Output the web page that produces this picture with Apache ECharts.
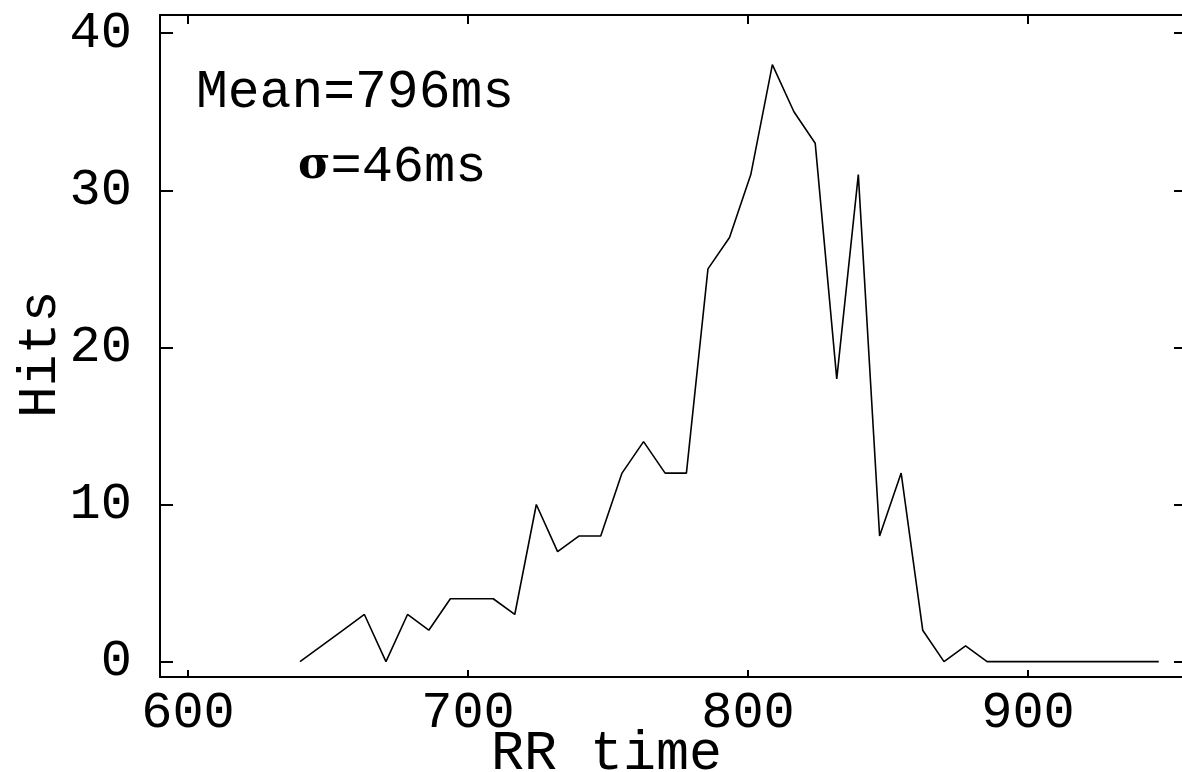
<!DOCTYPE html>
<html>
<head>
<meta charset="utf-8">
<style>
  html, body { margin: 0; padding: 0; background: #fff; }
  #chart { width: 1182px; height: 772px; }
</style>
<script src="https://cdn.jsdelivr.net/npm/echarts@6/dist/echarts.min.js"></script>
</head>
<body>
<div id="chart"></div>
<script>
// RR interval histogram (bin centre in ms, number of hits)
const rrTime = [640, 647.7, 655.4, 663, 670.7, 678.4, 686, 693.7, 701.4, 709,
                716.7, 724.4, 732, 739.7, 747.4, 755, 762.7, 770.4, 778, 785.7,
                793.4, 801, 808.7, 816.4, 824, 831.7, 839.4, 847, 854.7, 862.4,
                870, 877.7, 885.4, 893, 900.7, 908.4, 916, 923.7, 931.4, 939, 946.7];
const hits = [0, 1, 2, 3, 0, 3, 2, 4, 4, 4,
              3, 10, 7, 8, 8, 12, 14, 12, 12, 25,
              27, 31, 38, 35, 33, 18, 31, 8, 12, 2,
              0, 1, 0, 0, 0, 0, 0, 0, 0, 0, 0];
const xTicks = [600, 700, 800, 900];
const yTicks = [0, 10, 20, 30, 40];
const meanText = 'Mean=796ms';
const sigmaText = '=46ms';
const xName = 'RR time';
const yName = 'Hits';

const FONT = '"Liberation Mono", "DejaVu Sans Mono", monospace';
const X_MIN = 590, X_MAX = 955;
const Y_MIN = -0.98, Y_MAX = 41.16;

const chart = echarts.init(document.getElementById('chart'), null, { renderer: 'canvas' });

const lineStyle = { color: '#000', width: 2 };

function xAxisDef(pos, tickLen, showLabel) {
  return {
    type: 'value', position: pos, min: X_MIN, max: X_MAX,
    axisLine: { show: true, onZero: false, lineStyle },
    axisTick: { show: true, inside: true, length: tickLen, customValues: xTicks, lineStyle },
    axisLabel: { show: showLabel, customValues: xTicks, margin: 10,
                 color: '#000', fontFamily: FONT, fontSize: 52 },
    splitLine: { show: false }
  };
}
function yAxisDef(pos, tickLen, showLabel, showLine) {
  return {
    type: 'value', position: pos, min: Y_MIN, max: Y_MAX,
    axisLine: { show: showLine, onZero: false, lineStyle },
    axisTick: { show: true, inside: true, length: tickLen, customValues: yTicks, lineStyle },
    axisLabel: { show: showLabel, customValues: yTicks, margin: 28,
                 color: '#000', fontFamily: FONT, fontSize: 52 },
    splitLine: { show: false }
  };
}

chart.setOption({
  animation: false,
  backgroundColor: '#fff',
  grid: { left: 160, top: 15, width: 1022, height: 662, containLabel: false },
  xAxis: [xAxisDef('bottom', 7, true), xAxisDef('top', 9, false)],
  yAxis: [yAxisDef('left', 13, true, true), yAxisDef('right', 8, false, false)],
  series: [{
    type: 'line',
    data: rrTime.map((t, i) => [t, hits[i]]),
    showSymbol: false,
    lineStyle: { color: '#000', width: 1.6 },
    silent: true
  }],
  graphic: [
    { type: 'text', left: 196, top: 66,
      style: { text: meanText, fill: '#000', font: '53px ' + FONT } },
    { type: 'text', left: 298, top: 141,
      style: { text: '{s|σ}' + sigmaText, fill: '#000', font: '52px ' + FONT,
               rich: { s: { fontFamily: '"DejaVu Serif", serif', fontWeight: 'bold', fontSize: 44, fill: '#000' } } } },
    { type: 'text', left: 491, top: 727,
      style: { text: xName, fill: '#000', font: '55px ' + FONT } },
    { type: 'text', x: 14, y: 418, rotation: Math.PI / 2,
      style: { text: yName, fill: '#000', font: '53px ' + FONT } }
  ]
});
</script>
</body>
</html>
